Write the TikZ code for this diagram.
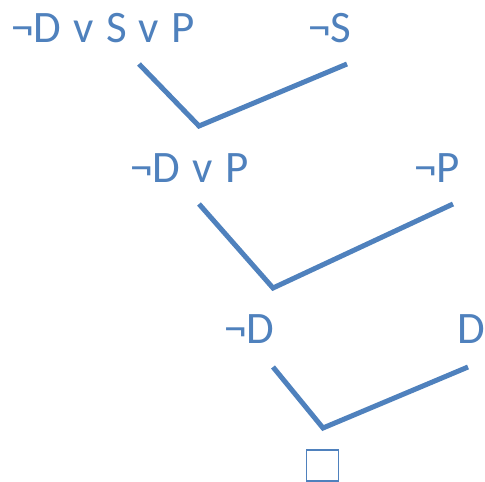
\documentclass[tikz,border=0pt]{standalone}
\usepackage{fontspec}
\setmainfont{Carlito}
\definecolor{ofblue}{HTML}{4F81BD}
\newcommand{\lblfont}{\fontsize{45}{50}\selectfont\spaceskip 12.2pt\relax}
\begin{document}
\begin{tikzpicture}[x=1pt,y=-1pt,
  lbl/.style={anchor=base west,inner sep=0pt,text=ofblue,font=\lblfont},
  conn/.style={draw=ofblue,line width=5pt}]
\useasboundingbox (0,0) rectangle (485,482);
\node[lbl] (c1) at (11,42) {¬D v S v P};
\node[lbl] (c2) at (308,42) {¬S};
\node[lbl] (c3) at (130,182) {¬D v P};
\node[lbl] (c4) at (414,182) {¬P};
\node[lbl] (c5) at (224,343) {¬D};
\node[lbl] (c6) at (457,343) {D};
\coordinate (a1) at (139,64);
\coordinate (m1) at (199,126);
\coordinate (b1) at (347,64);
\coordinate (a2) at (199,204);
\coordinate (m2) at (273,288);
\coordinate (b2) at (453,204);
\coordinate (a3) at (273,367);
\coordinate (m3) at (323,428);
\coordinate (b3) at (468,367);
\draw[conn] (a1) -- (m1) -- (b1);
\draw[conn] (a2) -- (m2) -- (b2);
\draw[conn] (a3) -- (m3) -- (b3);
\node[draw=ofblue,line width=1.5pt,minimum width=32pt,minimum height=31pt,inner sep=0pt] (box) at (322.5,465.5) {};
\end{tikzpicture}
\end{document}
